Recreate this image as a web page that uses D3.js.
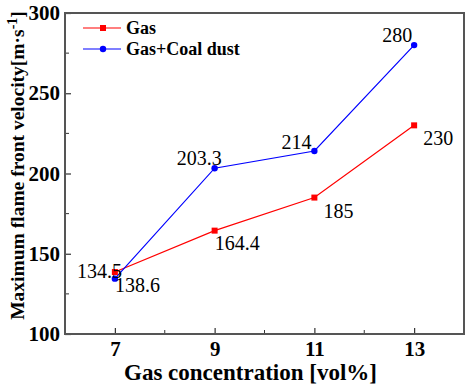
<!DOCTYPE html>
<html>
<head>
<meta charset="utf-8">
<script src="https://cdn.jsdelivr.net/npm/d3@7"></script>
<style>
  body { margin: 0; background: #fff; }
</style>
</head>
<body>
<div id="chart"></div>
<script>
'use strict';

// data
var concentrations = [7, 9, 11, 13];
var gasValues = [138.6, 164.4, 185, 230];
var coalValues = [134.5, 203.3, 214, 280];
var xTicks = [7, 9, 11, 13];
var yTicks = [100, 150, 200, 250, 300];

var SERIF = "Liberation Serif";
var W = 465, H = 386;
var margin = {left: 65, right: 1, top: 13, bottom: 52};

var svg = d3.select("#chart").append("svg")
  .attr("width", W).attr("height", H)
  .attr("font-family", SERIF);

var x = d3.scaleLinear().domain([6, 14]).range([margin.left, W - margin.right]);
var y = d3.scaleLinear().domain([100, 300]).range([H - margin.bottom, margin.top]);

// minor ticks (inside)
svg.append("g").selectAll("line").data([8, 10, 12]).enter().append("line")
  .attr("x1", function(d) { return x(d); }).attr("x2", function(d) { return x(d); })
  .attr("y1", y(100)).attr("y2", y(100) - 4)
  .attr("stroke", "#333").attr("stroke-width", 1);
svg.append("g").selectAll("line").data([125, 175, 225, 275]).enter().append("line")
  .attr("x1", x(6)).attr("x2", x(6) + 4)
  .attr("y1", function(d) { return y(d); }).attr("y2", function(d) { return y(d); })
  .attr("stroke", "#333").attr("stroke-width", 1);

// axes with inward ticks
var xAxis = svg.append("g")
  .attr("transform", "translate(0," + y(100) + ")")
  .call(d3.axisBottom(x).tickValues(xTicks).tickSize(-6).tickPadding(7));
var yAxis = svg.append("g")
  .attr("transform", "translate(" + x(6) + ",0)")
  .call(d3.axisLeft(y).tickValues(yTicks).tickSize(-6).tickPadding(5));

[xAxis, yAxis].forEach(function(g) {
  g.attr("font-family", SERIF);
  g.select(".domain").remove();
  g.selectAll(".tick line").attr("stroke", "#333").attr("stroke-width", 1.2);
  g.selectAll(".tick text")
    .attr("fill", "#000")
    .attr("font-family", SERIF)
    .attr("font-weight", "bold")
    .attr("font-size", "21px");
});

// frame
svg.append("rect")
  .attr("x", x(6)).attr("y", y(300))
  .attr("width", x(14) - x(6)).attr("height", y(100) - y(300))
  .attr("fill", "none").attr("stroke", "#555").attr("stroke-width", 2);

// axis titles
svg.append("text")
  .attr("x", (x(6) + x(14)) / 2 - 14).attr("y", H - 6)
  .attr("text-anchor", "middle")
  .attr("font-family", SERIF)
  .attr("font-weight", "bold").attr("font-size", "23px")
  .text("Gas concentration [vol%]");

svg.append("text")
  .attr("transform", "translate(24," + ((y(100) + y(300)) / 2 - 8) + ") rotate(-90)")
  .attr("text-anchor", "middle")
  .attr("font-family", SERIF)
  .attr("font-weight", "bold").attr("font-size", "19.5px")
  .html("Maximum flame front velocity[m·s<tspan dy='-7' font-size='14px'>-1</tspan><tspan dy='7'>]</tspan>");

// series
var line = d3.line()
  .x(function(d) { return x(d[0]); })
  .y(function(d) { return y(d[1]); });

var gasData = d3.zip(concentrations, gasValues);
var coalData = d3.zip(concentrations, coalValues);

svg.append("path").datum(gasData)
  .attr("d", line).attr("fill", "none").attr("stroke", "#ff0000").attr("stroke-width", 1.2);
svg.append("path").datum(coalData)
  .attr("d", line).attr("fill", "none").attr("stroke", "#0000ff").attr("stroke-width", 1.2);

svg.selectAll(".gasPt").data(gasData).enter().append("rect")
  .attr("x", function(d) { return x(d[0]) - 3; })
  .attr("y", function(d) { return y(d[1]) - 3; })
  .attr("width", 6).attr("height", 6).attr("fill", "#ff0000");
svg.selectAll(".coalPt").data(coalData).enter().append("circle")
  .attr("cx", function(d) { return x(d[0]); })
  .attr("cy", function(d) { return y(d[1]); })
  .attr("r", 3.2).attr("fill", "#0000ff");

// value labels
var gasOffsets = [[0, 20, "start"], [0, 19, "start"], [9, 20, "start"], [9, 20, "start"]];
var coalOffsets = [[7, -1, "end"], [7, -3, "end"], [-3, -2, "end"], [-2, -3, "end"]];

function addLabels(data, offsets) {
  svg.append("g").selectAll("text").data(data).enter().append("text")
    .attr("x", function(d, i) { return x(d[0]) + offsets[i][0]; })
    .attr("y", function(d, i) { return y(d[1]) + offsets[i][1]; })
    .attr("text-anchor", function(d, i) { return offsets[i][2]; })
    .attr("font-family", SERIF)
    .attr("font-size", "20px")
    .text(function(d) { return d[1]; });
}
addLabels(gasData, gasOffsets);
addLabels(coalData, coalOffsets);

// legend
var legend = [["Gas", "#ff0000", "rect"], ["Gas+Coal dust", "#0000ff", "circle"]];
legend.forEach(function(l, i) {
  var ly = 28 + i * 21;
  svg.append("line").attr("x1", 83).attr("x2", 121).attr("y1", ly).attr("y2", ly)
    .attr("stroke", l[1]).attr("stroke-width", 1.2);
  if (l[2] == "rect") {
    svg.append("rect").attr("x", 100).attr("y", ly - 3).attr("width", 6).attr("height", 6).attr("fill", l[1]);
  } else {
    svg.append("circle").attr("cx", 103).attr("cy", ly).attr("r", 3.2).attr("fill", l[1]);
  }
  svg.append("text").attr("x", 126).attr("y", ly + 6)
    .attr("font-family", SERIF)
    .attr("font-weight", "bold").attr("font-size", "18px")
    .text(l[0]);
});
</script>
</body>
</html>
